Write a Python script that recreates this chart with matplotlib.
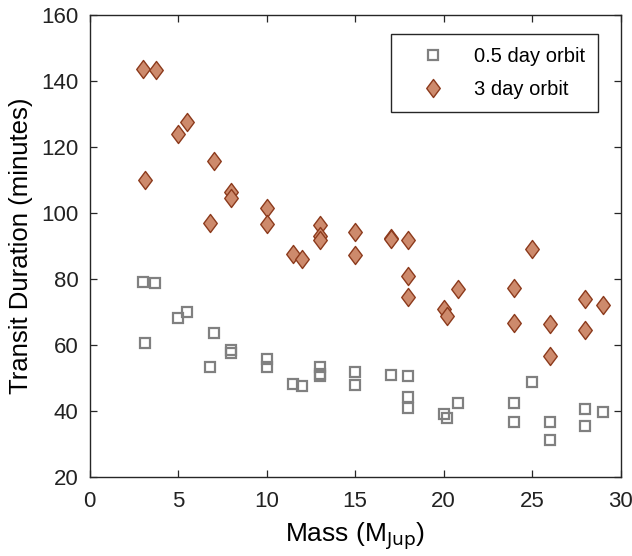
import matplotlib
matplotlib.use("Agg")
import matplotlib.pyplot as plt
import numpy as np
from matplotlib.path import Path

plt.rcParams['font.family'] = ['Liberation Sans', 'DejaVu Sans']

# 0.5 day orbit (squares)
mass_short = [3.0, 3.7, 3.1, 5.0, 5.5, 7.0, 6.8, 8.0, 8.0, 10, 10, 11.5, 12.0,
              13, 13, 13, 15, 15, 17, 18, 18, 18, 20, 20.2, 20.8, 24, 24, 25,
              26, 26, 28, 28, 29]
dur_short = [79.1, 78.9, 60.6, 68.2, 70.1, 63.6, 53.3, 58.6, 57.6, 55.9, 53.2,
             48.2, 47.5, 53.3, 51.3, 50.5, 51.9, 47.9, 50.8, 50.5, 44.4, 41.0,
             39.0, 38.0, 42.4, 42.5, 36.7, 48.9, 36.7, 31.2, 40.7, 35.5, 39.6]

# 3 day orbit (diamonds)
mass_long = [3.0, 3.75, 3.1, 5.0, 5.5, 7.0, 6.8, 8.0, 8.0, 10, 10, 11.5, 12.0,
             13, 13, 13, 15, 15, 17, 17, 18, 18, 18, 20, 20.2, 20.8, 24, 24,
             25, 26, 26, 28, 28, 29]
dur_long = [143.6, 143.4, 110.1, 124.0, 127.5, 115.9, 97.0, 106.5, 104.5,
            101.5, 96.8, 87.7, 86.2, 96.5, 92.9, 91.9, 94.4, 87.3, 92.4, 92.0,
            91.9, 80.8, 74.7, 71.0, 68.9, 77.1, 77.4, 66.8, 89.0, 66.5, 56.8,
            74.0, 64.5, 72.1]

diamond = Path([(0, 1), (0.75, 0), (0, -1), (-0.75, 0), (0, 1)],
               [Path.MOVETO, Path.LINETO, Path.LINETO, Path.LINETO, Path.CLOSEPOLY])

fig = plt.figure(figsize=(6.32, 5.56), dpi=100)
ax = fig.add_axes([0.142, 0.142, 0.840, 0.831])

ax.plot(mass_short, dur_short, linestyle='none', marker='s', markersize=7.5,
        markerfacecolor='none', markeredgecolor='#808080', markeredgewidth=1.6,
        label='0.5 day orbit')
ax.plot(mass_long, dur_long, linestyle='none', marker=diamond, markersize=13,
        markerfacecolor='#cd8a6c', markeredgecolor='#8c3a1c', markeredgewidth=1.0,
        label='3 day orbit')

ax.set_xlim(0, 30)
ax.set_ylim(20, 160)
ax.set_xticks(np.arange(0, 31, 5))
ax.set_yticks(np.arange(20, 161, 20))
ax.tick_params(direction='in', top=True, right=True, length=5, width=0.9,
               labelsize=16, colors='#262626', labelcolor='#222222')
ax.tick_params(axis='x', pad=10)
ax.tick_params(axis='y', pad=8)
for s in ax.spines.values():
    s.set_color('#262626')
    s.set_linewidth(1.0)

ax.set_xlabel('Mass (M$_{\\mathrm{Jup}}$)', fontsize=19, labelpad=6)
ax.set_ylabel('Transit Duration (minutes)', fontsize=18.5, labelpad=6)

leg = ax.legend(loc='upper right', bbox_to_anchor=(0.957, 0.959), fontsize=14.5,
                borderaxespad=0, fancybox=False, edgecolor='#262626',
                framealpha=1, borderpad=0.65, labelspacing=0.68,
                handletextpad=0.55, handlelength=2.9)
leg.get_frame().set_linewidth(1.0)

fig.savefig('out.png', dpi=100)
